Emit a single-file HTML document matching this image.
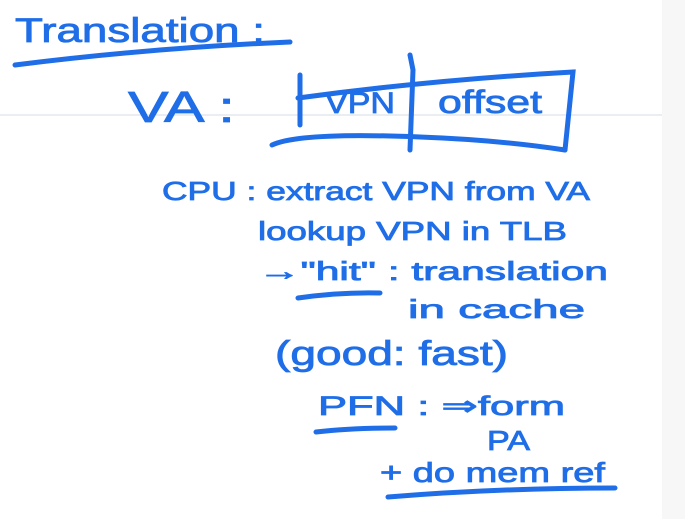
<!DOCTYPE html>
<html><head><style>
html,body{margin:0;padding:0;background:#fff;}
svg{display:block;}
text{font-family:"Liberation Sans",sans-serif;fill:#1f6ee8;stroke:#1f6ee8;stroke-width:0.8;}
</style></head><body>
<svg width="685" height="519" viewBox="0 0 685 519" xmlns="http://www.w3.org/2000/svg">
<rect width="685" height="519" fill="#fff"/>
<rect x="662" y="0" width="23" height="519" fill="#f7f7f8"/>
<line x1="0" y1="115" x2="662" y2="115" stroke="#d6dde6" stroke-width="1"/>
<g fill="none" stroke="#1f6ee8" stroke-width="5" stroke-linecap="round">
<path d="M15 65 Q150 48 290 42"/>
<path d="M300 75 L300 125"/>
<path d="M298 98 Q430 80 573 72 L565 150"/>
<path d="M272 145 Q300 132 420 137 Q500 140 565 150"/>
<path d="M410 55 L413 70 L410 150"/>
<path d="M298 298 Q340 292 380 293"/>
<path d="M316 432 Q350 428 395 428"/>
<path d="M388 497 Q500 488 615 488"/>
</g>
<text x="15" y="42" font-size="34" textLength="250" lengthAdjust="spacingAndGlyphs">Translation :</text>
<text x="128" y="122" font-size="44" textLength="107" lengthAdjust="spacingAndGlyphs">VA :</text>
<text x="325" y="113" font-size="30" textLength="70" lengthAdjust="spacingAndGlyphs">VPN</text>
<text x="438" y="113" font-size="32" textLength="104" lengthAdjust="spacingAndGlyphs">offset</text>
<text x="162" y="200" font-size="26" textLength="428" lengthAdjust="spacingAndGlyphs">CPU : extract VPN from VA</text>
<text x="258" y="240" font-size="26" textLength="309" lengthAdjust="spacingAndGlyphs">lookup VPN in TLB</text>
<text x="258" y="280" font-size="26" textLength="350" lengthAdjust="spacingAndGlyphs">→"hit" : translation</text>
<text x="408" y="318" font-size="26" textLength="177" lengthAdjust="spacingAndGlyphs">in cache</text>
<text x="275" y="365" font-size="34" textLength="233" lengthAdjust="spacingAndGlyphs">(good: fast)</text>
<text x="318" y="415" font-size="27" textLength="247" lengthAdjust="spacingAndGlyphs">PFN : ⇒form</text>
<text x="487" y="450" font-size="28" textLength="43" lengthAdjust="spacingAndGlyphs">PA</text>
<text x="380" y="482" font-size="28" textLength="225" lengthAdjust="spacingAndGlyphs">+ do mem ref</text>
</svg>
</body></html>
